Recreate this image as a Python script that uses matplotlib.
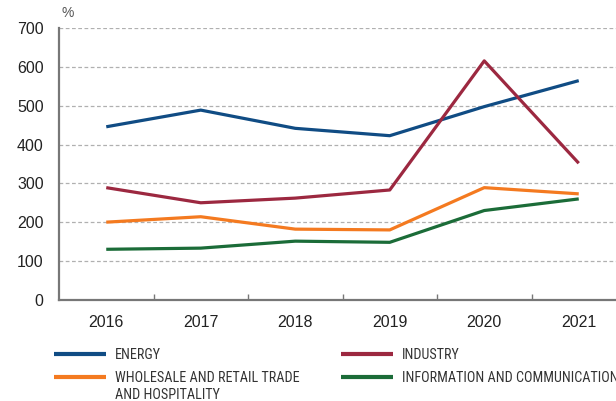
import numpy as np
import matplotlib
matplotlib.use("Agg")
import matplotlib.pyplot as plt

# data (%)
years = ["2016", "2017", "2018", "2019", "2020", "2021"]
energy = [446, 489, 442, 423, 498, 565]
industry = [289, 250, 262, 283, 616, 352]
wholesale = [200, 214, 182, 180, 289, 273]
info_comm = [130, 133, 151, 148, 230, 260]

labels = ["ENERGY", "WHOLESALE AND RETAIL TRADE",
          "INDUSTRY", "INFORMATION AND COMMUNICATION"]
label_cont = "AND HOSPITALITY"   # second line of the wholesale label
colors = ["#104c84", "#f47a20", "#9c2840", "#1b6c38"]

plt.rcParams["font.family"] = ["Liberation Sans", "DejaVu Sans"]
leg_font = {"family": ["Roboto Condensed", "DejaVu Sans"], "size": 10.2}

fig = plt.figure(figsize=(6.16, 4.01), dpi=100)
ax = fig.add_axes([59 / 616, 101.3 / 401, 567 / 616, 271.4 / 401])

x = np.arange(len(years))
series = [energy, wholesale, industry, info_comm]
lines = []
for vals, col, lab in zip(series, colors, labels):
    ln, = ax.plot(x, vals, color=col, linewidth=2.3, label=lab, solid_capstyle="butt", zorder=3)
    lines.append(ln)

ax.set_xlim(-0.5, 5.5)
ax.set_ylim(0, 700)
ax.set_yticks(range(0, 701, 100))
ax.yaxis.grid(True, linestyle=(0, (3, 2)), color="#b0b0b0", linewidth=0.9)
ax.set_axisbelow(True)

# boundary ticks pointing in, labels at the category centres
ax.set_xticks(np.arange(0.5, 5.5, 1))
ax.set_xticklabels([])
ax.tick_params(axis="x", which="major", direction="in", length=4, color="#777777", width=1)
ax.set_xticks(x, minor=True)
ax.set_xticklabels(years, minor=True)
ax.tick_params(axis="x", which="minor", length=0, pad=11, labelsize=11.5, labelcolor="#222222")
ax.tick_params(axis="y", length=0, pad=11, labelsize=11.5, labelcolor="#222222")

for side in ["top", "right"]:
    ax.spines[side].set_visible(False)
for side in ["left", "bottom"]:
    ax.spines[side].set_color("#777777")
    ax.spines[side].set_linewidth(1.6)

fig.text(61 / 616, 1 - 13 / 401, "%", fontsize=10, color="#555555", va="center", ha="left")

leg = fig.legend(handles=lines, ncol=2, loc="upper left", bbox_to_anchor=(54 / 616, 1 - 348 / 401),
                 frameon=False, prop=leg_font,
                 handlelength=3.7, handletextpad=0.6, columnspacing=2.9, labelspacing=0.62,
                 borderaxespad=0, borderpad=0)
for t in leg.get_texts():
    t.set_color("#333333")
for h in leg.legend_handles:
    h.set_linewidth(3)

# put the continuation line under the wholesale label
fig.canvas.draw()
bb = leg.get_texts()[1].get_window_extent().transformed(fig.transFigure.inverted())
fig.text(bb.x0, bb.y0 - 17.5 / 401, label_cont, color="#333333", ha="left", va="bottom",
         **{"family": leg_font["family"], "size": leg_font["size"]})

fig.savefig("out.png", dpi=100)
